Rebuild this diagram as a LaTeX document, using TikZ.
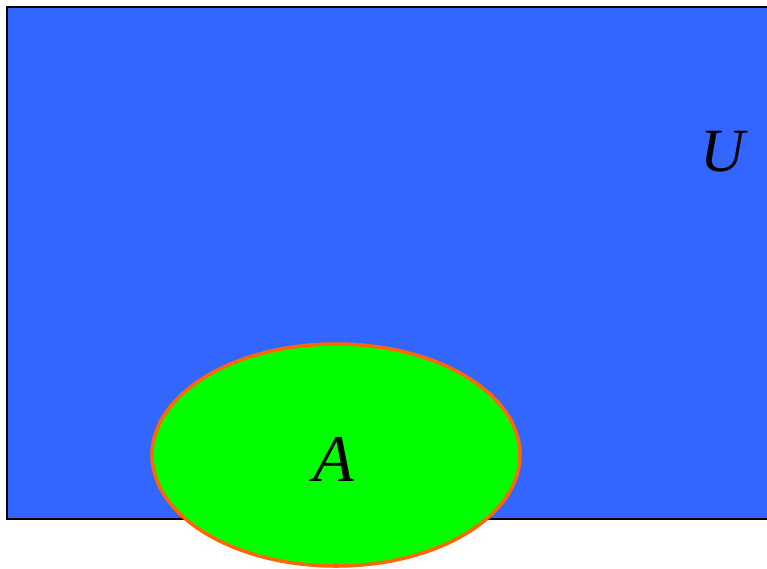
\documentclass[tikz,border=0pt]{standalone}
\usepackage{fontspec}
\setmainfont{Liberation Serif}
\usepackage{tikz}
\usetikzlibrary{positioning}
\definecolor{universeblue}{RGB}{51,102,255}
\definecolor{setgreen}{RGB}{0,255,0}
\definecolor{setorange}{RGB}{255,102,0}

\tikzset{
  setlabel/.style={font=\itshape\fontsize{38}{38}\selectfont, inner sep=0pt}
}

\begin{document}
\begin{tikzpicture}[x=0.02cm, y=-0.02cm]
  \clip (0,0) rectangle (767,568);
  % Universe
  \draw[black, line width=1.1pt, fill=universeblue] (7,7) rectangle (790,519);
  \node[setlabel, font=\itshape\fontsize{35}{35}\selectfont] (labU) at (723,152) {U};
  % Set A
  \draw[setorange, line width=2pt, fill=setgreen] (336,455) ellipse [x radius=184, y radius=111];
  \node[setlabel] (labA) at (334,459) {A};
\end{tikzpicture}
\end{document}
